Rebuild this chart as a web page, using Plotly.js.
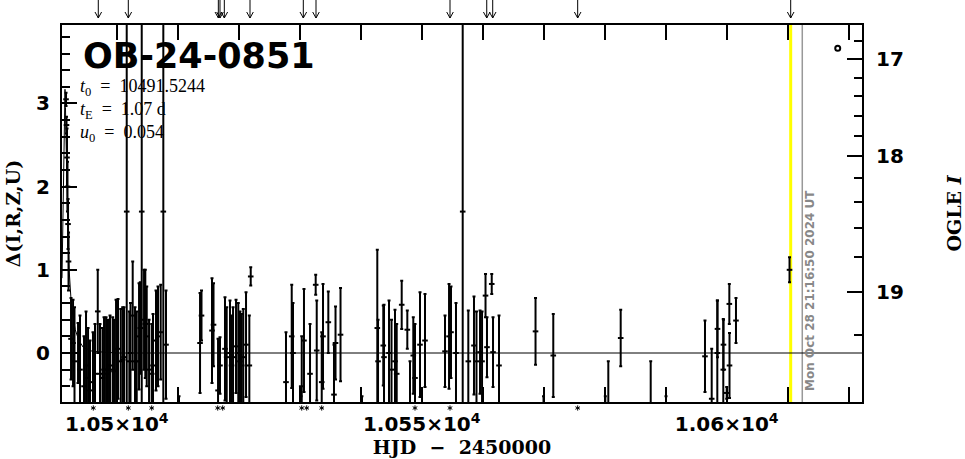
<!DOCTYPE html>
<html>
<head>
<meta charset="utf-8">
<script src="https://cdn.plot.ly/plotly-3.0.1.min.js"></script>
<style>html,body{margin:0;padding:0;background:#fff;}#chart{width:965px;height:459px;}</style>
</head>
<body>
<div id="chart"></div>
<script>
// ---- data (HJD - 2450000, Delta, error) ----
const hjd = [
 10491.69,10491.77,10491.85,10491.93,10492.02,10492.10,
 10492.51,10492.84,10493.08,10493.66,10493.98,10494.64,10494.97,10495.30,10495.62,10496.11,10496.44,10496.89,
 10497.26,10497.67,10497.92,10498.25,10498.57,10498.90,10499.34,10499.56,10499.89,10500.21,10500.66,10500.98,
 10501.20,10501.64,10502.07,10502.26,10502.62,10503.00,10503.28,10503.66,10503.87,10504.10,10504.48,10504.69,
 10504.92,10505.30,10505.74,10505.95,10506.44,10506.77,10507.21,10507.64,10508.08,10510.21,
 10513.66,10513.90,10515.62,10515.87,10516.61,10516.93,10517.75,10518.03,10518.57,10518.82,10519.07,10519.56,
 10519.93,10520.21,10520.49,10520.75,10521.20,10521.74,10521.97,
 10527.75,10528.69,10528.90,10530.21,10530.33,10530.70,10531.69,10532.62,10532.79,10533.61,10533.82,10534.69,
 10535.62,10535.87,10536.69,
 10540.21,10542.72,10542.84,10543.70,10543.82,10544.64,10545.05,10545.62,10545.90,10546.72,10547.64,10548.08,
 10548.62,10548.90,10549.72,10550.54,10553.82,10554.48,10554.80,10555.62,10556.72,10557.64,10558.57,10558.98,
 10559.56,10559.89,10560.46,10560.70,10561.48,10561.69,10562.67,
 10568.66,10569.97,10571.57,10580.10,10580.59,10582.62,10587.54,10590.05,10596.44,10597.54,10598.46,10598.49,
 10599.44,10599.47,10600.00,10600.43,10600.46,10601.52,10610.30
];
const delta = [
 3.05,2.74,2.35,2.00,1.55,1.10,
 0.17,0.12,-0.10,0.00,-0.20,-0.40,-0.15,-0.30,-0.45,-0.35,-0.25,0.50,
 -0.25,-0.30,-0.20,-0.20,-0.25,-0.15,-0.20,-0.22,0.00,0.05,-0.10,-0.08,
 -0.05,1.70,-0.10,0.00,0.45,-0.10,-0.10,0.20,0.30,1.70,0.40,0.35,
 0.20,-0.20,-0.25,-0.15,0.15,0.20,0.25,1.70,0.10,-1.10,
 0.12,0.45,0.27,0.34,-0.45,-0.15,0.05,-0.05,0.00,-0.15,-0.05,0.08,
 0.00,-0.10,-0.15,-0.05,0.10,-0.15,0.92,
 -0.35,0.20,0.00,-1.10,-0.40,0.15,-0.25,0.82,0.03,-0.35,0.20,0.37,
 -0.50,0.12,0.22,
 -1.10,0.30,-0.10,0.09,-0.05,0.00,-0.20,-0.10,-0.25,0.58,0.28,-0.70,
 -0.03,-0.30,0.10,0.15,0.02,0.20,0.25,0.00,1.70,-0.10,0.09,-0.10,
 0.01,-0.10,0.69,0.07,0.83,0.01,-0.15,
 0.26,-1.10,-0.03,-1.10,-0.70,0.18,-0.70,-1.10,-0.04,-0.55,0.00,0.29,
 -0.20,0.10,-0.48,0.59,-0.15,0.39,1.00
];
const err = [
 0.08,0.10,0.35,0.30,0.30,0.35,
 0.49,0.52,0.65,0.36,0.65,0.60,0.65,0.60,0.60,0.60,0.60,0.50,
 0.60,0.60,0.63,0.63,0.65,0.60,0.63,0.62,0.64,0.60,0.63,0.63,
 0.60,3.00,0.60,0.60,0.65,0.65,0.60,0.64,0.55,3.00,0.60,0.65,
 0.60,0.60,0.60,0.62,0.60,0.60,0.57,3.00,0.65,0.58,
 0.60,0.30,0.63,0.50,0.62,0.34,0.62,0.60,0.63,0.60,0.60,0.56,
 0.60,0.60,0.62,0.58,0.63,0.60,0.11,
 0.60,0.62,0.60,0.58,0.60,0.62,0.60,0.12,0.60,0.60,0.63,0.37,
 0.60,0.44,0.56,
 0.58,0.94,0.50,0.48,0.63,0.63,0.60,0.62,0.60,0.29,0.23,0.60,
 0.46,0.65,0.63,0.56,0.43,0.63,0.55,0.60,3.00,0.61,0.59,0.60,
 0.50,0.60,0.26,0.36,0.12,0.42,0.60,
 0.40,0.58,0.50,0.58,0.60,0.34,0.60,0.58,0.43,0.60,0.63,0.34,
 0.61,0.30,0.07,0.24,0.39,0.27,0.15
];

// model light curve
const modelT = [10491.03,10491.20,10491.35,10491.45,10491.52,10491.60,10491.70,10491.85,10492.00,10492.20,10492.50,10492.80,10493.20,10493.80,10494.50,10496.00,10500.00,10550.00,10622.18];
const modelD = [0.90,1.55,2.35,2.95,3.17,2.95,2.41,1.80,1.40,1.00,0.65,0.45,0.28,0.15,0.07,0.02,0.00,0.00,0.00];

// markers above / below the frame
const arrowT = [10496.98,10501.90,10516.66,10516.93,10517.64,10521.85,10530.59,10532.67,10554.64,10560.66,10561.64,10575.57,10610.49];
const starT  = [10496.16,10501.90,10505.74,10516.56,10517.38,10530.33,10531.15,10533.61,10548.90,10554.64,10575.57];

const nowT = 10610.49;      // yellow line
const stampT = 10612.39;    // grey line
const stampText = 'Mon Oct 28 21:16:50 2024 UT';
const baseMarkT = [10618.2], baseMarkD = [3.663];

// axes
const xTickVals = [10500, 10550, 10600];
const xTickText = ['1.05×10<sup>4</sup>', '1.055×10<sup>4</sup>', '1.06×10<sup>4</sup>'];
const yTickVals = [0, 1, 2, 3];
const magLabels = ['17', '18', '19'];
const magMajorPos = [3.534, 2.371, 0.730];
const magMinorPos = [3.754, 3.534, 3.309, 3.089, 2.848, 2.608, 2.371, 2.106, 1.817, 1.504, 1.155, 0.730, 0.213];

const eventName = 'OB-24-0851';
const paramLines = ['<i>t</i><sub>0</sub>\u00a0 = \u00a010491.5244', '<i>t</i><sub>E</sub>\u00a0 = \u00a01.07 d', '<i>u</i><sub>0</sub>\u00a0 = \u00a00.054'];

const XR = [10491.03, 10622.18], YR = [-0.589, 3.943];
const tickFont = {family: 'DejaVu Sans', size: 20, color: '#000', weight: 'bold'};
const titleFont = {family: 'DejaVu Serif', size: 19, color: '#000', weight: 'bold'};

// geometry helpers for the glyph-like markers outside the frame (sizes in px converted to axis/paper units)
const PLOT_W = 965 - 62 - 103, PLOT_H = 459 - 25 - 57;
const dayPerPx = (XR[1] - XR[0]) / PLOT_W, paperPerPx = 1 / PLOT_H;

const traces = [
  {x: modelT, y: modelD, type: 'scatter', mode: 'lines', line: {color: '#000', width: 1}, hoverinfo: 'skip'},
  {x: hjd, y: delta, type: 'scatter', mode: 'markers',
   marker: {symbol: 'line-ew-open', size: 4, color: '#000', line: {color: '#000', width: 2}},
   error_y: {type: 'data', array: err, visible: true, color: '#000', thickness: 2, width: 1.5}},
  {x: baseMarkT, y: baseMarkD, type: 'scatter', mode: 'markers', yaxis: 'y2',
   marker: {symbol: 'circle-open', size: 5, color: '#000', line: {color: '#000', width: 2}}}
];

const annotations = [
  {xref: 'paper', yref: 'paper', x: 0.024, y: 0.918, xanchor: 'left', yanchor: 'middle', showarrow: false,
   text: eventName, font: {family: 'DejaVu Sans', size: 35, color: '#000', weight: 'bold'}},
  {xref: 'x', yref: 'y', x: stampT + 1.15, y: 0.75, showarrow: false, textangle: -90,
   text: stampText, font: {family: 'DejaVu Sans', size: 12, color: '#888', weight: 'bold'}}
];
paramLines.forEach((t, i) => annotations.push({
  xref: 'paper', yref: 'paper', x: 0.020, y: 0.833 - i * 0.06, xanchor: 'left', yanchor: 'middle', showarrow: false,
  text: t, font: {family: 'Liberation Serif', size: 18, color: '#000'}}));

const shapes = [
  {type: 'line', xref: 'x', yref: 'paper', x0: nowT, x1: nowT, y0: 0, y1: 1, line: {color: '#ffff00', width: 3}, layer: 'below'},
  {type: 'line', xref: 'x', yref: 'paper', x0: stampT, x1: stampT, y0: 0, y1: 1, line: {color: '#999', width: 1.5}, layer: 'below'}
];
// down arrows above the frame
arrowT.forEach(t => {
  const yTip = 1 + 7 * paperPerPx, yTop = 1 + 25 * paperPerPx, yHead = yTip + 6 * paperPerPx, dx = 3.3 * dayPerPx;
  shapes.push({type: 'path', xref: 'x', yref: 'paper',
    path: `M${t},${yTop}L${t},${yTip}M${t - dx},${yHead}L${t},${yTip}L${t + dx},${yHead}`,
    line: {color: '#000', width: 1}});
});
// asterisks below the frame
starT.forEach(t => {
  const yc = -6 * paperPerPx, h = 2.6 * paperPerPx, dx = 2.3 * dayPerPx, hh = 1.3 * paperPerPx;
  shapes.push({type: 'path', xref: 'x', yref: 'paper',
    path: `M${t},${yc + h}L${t},${yc - h}M${t - dx},${yc + hh}L${t + dx},${yc - hh}M${t - dx},${yc - hh}L${t + dx},${yc + hh}`,
    line: {color: '#000', width: 1}});
});

const layout = {
  width: 965, height: 459, showlegend: false,
  paper_bgcolor: '#fff', plot_bgcolor: '#fff',
  margin: {l: 62, r: 103, t: 25, b: 57},
  xaxis: {range: XR, showline: true, linewidth: 2, linecolor: '#000', mirror: 'allticks',
    ticks: 'inside', ticklen: 15, tickwidth: 2, tickcolor: '#000',
    tickmode: 'array', tickvals: xTickVals, ticktext: xTickText, tickfont: tickFont, ticklabelstandoff: 3,
    minor: {tickmode: 'linear', tick0: 10500, dtick: 10, ticks: 'inside', ticklen: 8, tickwidth: 2, tickcolor: '#000'},
    showgrid: false, zeroline: false, automargin: false,
    title: {text: 'HJD  −  2450000', font: titleFont, standoff: 4}},
  yaxis: {range: YR, showline: true, linewidth: 2, linecolor: '#000', mirror: false,
    ticks: 'inside', ticklen: 15, tickwidth: 2, tickcolor: '#000',
    tickmode: 'array', tickvals: yTickVals, tickfont: tickFont, ticklabelstandoff: 6,
    minor: {tickmode: 'linear', tick0: 0, dtick: 0.2, ticks: 'inside', ticklen: 8, tickwidth: 2, tickcolor: '#000'},
    showgrid: false, zeroline: false, automargin: false,
    title: {text: 'Δ(I,R,Z,U)', font: titleFont, standoff: 10}},
  yaxis2: {range: YR, overlaying: 'y', side: 'right', showline: true, linewidth: 2, linecolor: '#000',
    ticks: 'inside', ticklen: 15, tickwidth: 2, tickcolor: '#000',
    tickmode: 'array', tickvals: magMajorPos, ticktext: magLabels, tickfont: tickFont, ticklabelstandoff: 8,
    minor: {tickmode: 'array', tickvals: magMinorPos, ticks: 'inside', ticklen: 8, tickwidth: 2, tickcolor: '#000'},
    showgrid: false, zeroline: false, automargin: false,
    title: {text: 'OGLE <i>I</i>', font: titleFont, standoff: 46}},
  annotations: annotations,
  shapes: shapes
};

Plotly.newPlot('chart', traces, layout, {staticPlot: true, displayModeBar: false});
</script>
</body>
</html>
